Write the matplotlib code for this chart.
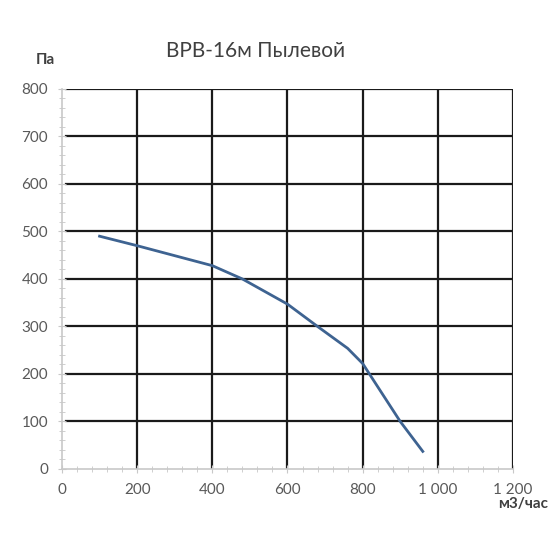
import numpy as np
import matplotlib.pyplot as plt
from matplotlib.ticker import MultipleLocator, FuncFormatter

# расход, м3/час и давление, Па
flow = [100, 200, 400, 480, 600, 680, 760, 800, 900, 960]
pressure = [490, 470, 428, 400, 347, 300, 254, 222, 100, 37]

x_ticks = [0, 200, 400, 600, 800, 1000, 1200]
y_ticks = [0, 100, 200, 300, 400, 500, 600, 700, 800]

plt.rcParams['font.family'] = ['Lato', 'DejaVu Sans']

fig = plt.figure(figsize=(5.5, 5.5), dpi=100)
ax = fig.add_axes([0.1127, 0.1473, 0.82, 0.691])

# сетка
for xv in x_ticks[1:]:
    ax.axvline(xv, color='#1a1a1a', lw=1.6, zorder=1)
for yv in y_ticks[1:]:
    ax.axhline(yv, color='#1a1a1a', lw=1.6, zorder=1, xmin=0.01)

ax.plot(flow, pressure, color='#3e6391', lw=2, zorder=3)

ax.set_xlim(0, 1200)
ax.set_ylim(0, 800)
ax.set_xticks(x_ticks)
ax.set_yticks(y_ticks)
ax.xaxis.set_minor_locator(MultipleLocator(40))
ax.yaxis.set_minor_locator(MultipleLocator(20))
ax.xaxis.set_major_formatter(FuncFormatter(lambda v, p: f"{int(v):,}".replace(",", " ")))

for s in ['top', 'right']:
    ax.spines[s].set_visible(False)
for s in ['left', 'bottom']:
    ax.spines[s].set_color('#c8c8c8')
    ax.spines[s].set_linewidth(1.2)
ax.tick_params(which='both', direction='inout', color='#c8c8c8', labelcolor='#595959', labelsize=11)
ax.tick_params(which='major', length=6, pad=7)
ax.tick_params(which='minor', length=4)

fig.text(0.465, 0.908, 'BPB-16м Пылевой', ha='center', va='center', fontsize=15, color='#404040')
fig.text(0.082, 0.89, 'Па', ha='center', va='center', fontsize=11, fontweight='bold', color='#404040')
fig.text(0.997, 0.084, 'м3/час', ha='right', va='center', fontsize=11, fontweight='bold', color='#404040')

plt.savefig('out.png', dpi=100)
